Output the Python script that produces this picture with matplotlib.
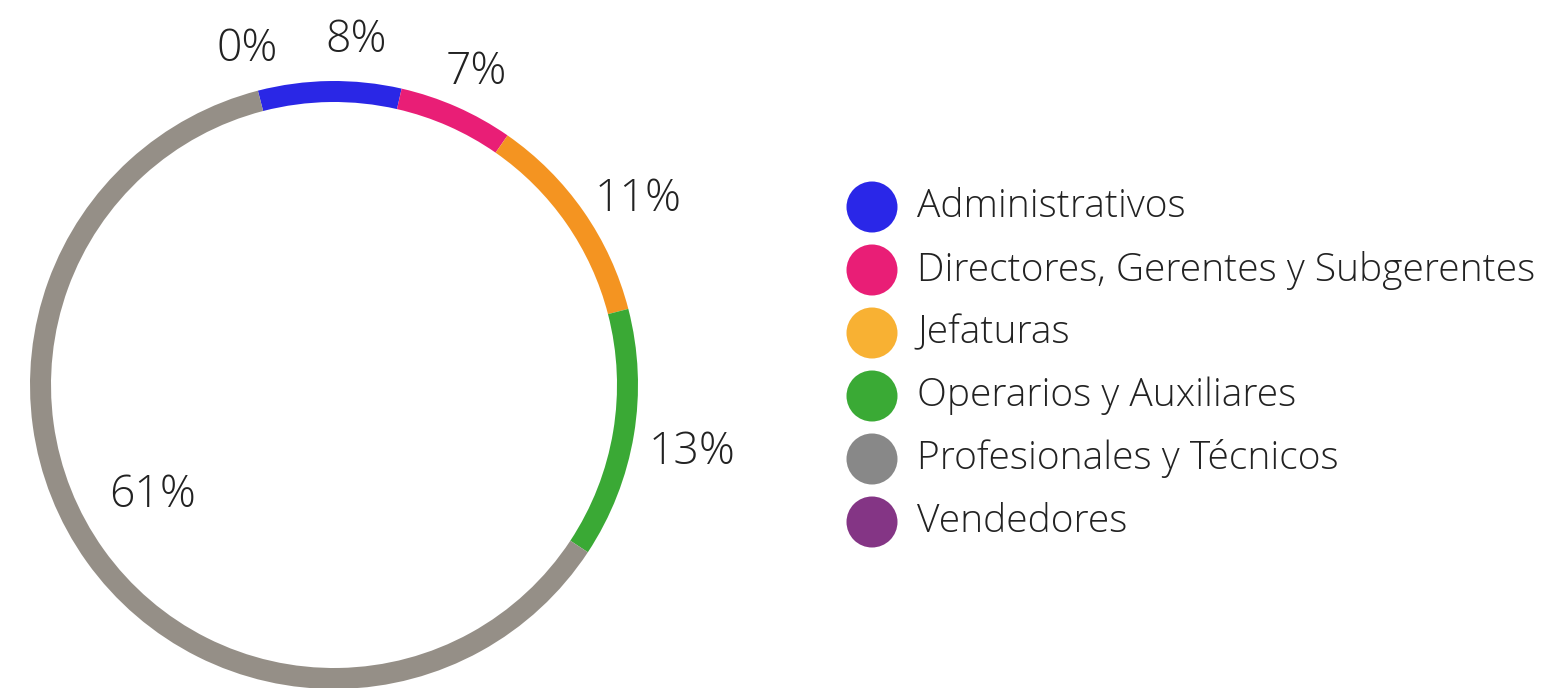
import numpy as np
import matplotlib
matplotlib.use("Agg")
import matplotlib.pyplot as plt

# datos (porcentajes)
categorias = ["Administrativos", "Directores, Gerentes y Subgerentes", "Jefaturas",
              "Operarios y Auxiliares", "Profesionales y Técnicos", "Vendedores"]
valores = [7.6, 6.1, 11.3, 13.3, 61.7, 0.0]
etiquetas = ["8%", "7%", "11%", "13%", "61%", "0%"]

colores_anillo = ["#2A27E6", "#E91E76", "#F49421", "#3AA935", "#958F87", "#843585"]
colores_leyenda = ["#2A27E8", "#E91E76", "#F8B133", "#3AAA35", "#888888", "#843585"]
# posicion de cada etiqueta: distancia relativa al radio y desplazamiento angular
dist_etiqueta = [1.135, 1.13, 1.17, 1.20, 0.70, 1.14]
desv_angulo = [4.5, 0.6, 3.5, 1.2, 4.2, 0]

plt.rcParams['font.family'] = ['Open Sans', 'DejaVu Sans']
texto_color = "#222222"

W, H = 1541, 688
fig = plt.figure(figsize=(W / 100, H / 100), dpi=100)
ax = fig.add_axes([0, 0, 1, 1])

cx, cy, R = 334, H - 385, 304
inicio = -14.5  # grados, sentido horario desde arriba

ax.pie(valores, colors=colores_anillo, startangle=90 - inicio, counterclock=False,
       center=(cx, cy), radius=R, wedgeprops=dict(width=21, linewidth=0))

# etiquetas de porcentaje
total = sum(valores)
acum = inicio
for v, et, d, da in zip(valores, etiquetas, dist_etiqueta, desv_angulo):
    ang = acum + v / total * 360 / 2 + da
    acum += v / total * 360
    t = np.radians(ang)
    ax.text(cx + R * d * np.sin(t), cy + R * d * np.cos(t), et, fontsize=32,
            fontweight="light", color=texto_color, ha="center", va="center")

# leyenda manual
y0, paso = H - 207, 63
for i, (cat, col) in enumerate(zip(categorias, colores_leyenda)):
    y = y0 - i * paso
    ax.add_patch(plt.Circle((872, y), 25.5, color=col, lw=0))
    ax.text(917, y, cat, fontsize=28, fontweight="light", color=texto_color,
            ha="left", va="center")

ax.set_xlim(0, W)
ax.set_ylim(0, H)
ax.set_aspect("equal")
ax.axis("off")

fig.savefig("out.png", dpi=100, facecolor="white")
